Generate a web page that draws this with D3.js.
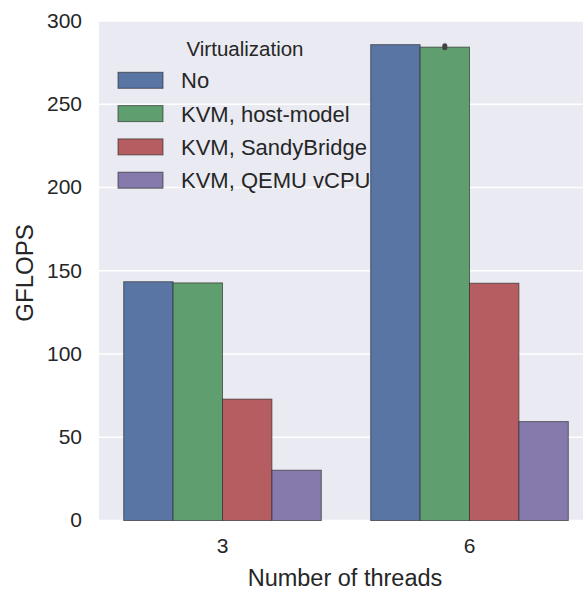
<!DOCTYPE html>
<html>
<head>
<meta charset="utf-8">
<script src="https://cdn.jsdelivr.net/npm/d3@7"></script>
<style>
  html, body { margin: 0; padding: 0; background: #fff; }
  svg { display: block; font-family: "Liberation Sans", Arial, sans-serif; }
</style>
</head>
<body>
<svg id="chart" width="583" height="591"></svg>
<script>
// ---- data ----
const categories = ["3", "6"];
const seriesNames = ["No", "KVM, host-model", "KVM, SandyBridge", "KVM, QEMU vCPU"];
const seriesColors = ["#5975a4", "#5f9e6e", "#b55d60", "#857aab"];
const valuesNo          = [143.4, 285.8];
const valuesHostModel   = [142.7, 284.3];
const valuesSandyBridge = [72.9, 142.5];
const valuesQemu        = [30.2, 59.4];
const ciLowHostModel    = [142.7, 284.0];
const ciHighHostModel   = [142.7, 285.2];
const yTicks = [0, 50, 100, 150, 200, 250, 300];
const xLabel = "Number of threads";
const yLabel = "GFLOPS";
const legendTitle = "Virtualization";

const seriesValues = [valuesNo, valuesHostModel, valuesSandyBridge, valuesQemu];

// ---- layout ----
const svg = d3.select("#chart");
const plot = { left: 99, right: 593, top: 21, bottom: 520.5 };
const textColor = "#262626";

const x = d3.scaleBand().domain(categories).range([plot.left, plot.right]).paddingInner(0).paddingOuter(0);
const xs = d3.scaleBand().domain(seriesNames).range([0, x.bandwidth() * 0.8]);
const y = d3.scaleLinear().domain([0, 300]).range([plot.bottom, plot.top]);

// background
svg.append("rect")
  .attr("x", plot.left).attr("y", plot.top)
  .attr("width", plot.right - plot.left).attr("height", plot.bottom - plot.top)
  .attr("fill", "#eaeaf2");

// gridlines
svg.append("g").selectAll("line").data(yTicks).join("line")
  .attr("x1", plot.left).attr("x2", plot.right)
  .attr("y1", d => y(d)).attr("y2", d => y(d))
  .attr("stroke", "#fff").attr("stroke-width", 1.6);

// y axis labels
const yAxis = d3.axisLeft(y).tickValues(yTicks).tickSize(0).tickPadding(17);
const gy = svg.append("g").attr("transform", `translate(${plot.left},0)`).call(yAxis);
gy.select(".domain").remove();
gy.selectAll("text").attr("font-size", 21).attr("fill", textColor)
  .attr("font-family", "Liberation Sans, Arial, sans-serif").attr("dy", "0.3em");

// x axis labels
const xAxis = d3.axisBottom(x).tickSize(0).tickPadding(18);
const gx = svg.append("g").attr("transform", `translate(0,${plot.bottom})`).call(xAxis);
gx.select(".domain").remove();
gx.selectAll("text").attr("font-size", 21).attr("fill", textColor)
  .attr("font-family", "Liberation Sans, Arial, sans-serif");

// bars
const barData = [];
seriesNames.forEach((s, si) => {
  categories.forEach((c, ci) => {
    barData.push({ series: s, si, cat: c, value: seriesValues[si][ci] });
  });
});
const bandStart = c => x(c) + x.bandwidth() * 0.1;
svg.append("g").selectAll("rect").data(barData).join("rect")
  .attr("x", d => bandStart(d.cat) + xs(d.series))
  .attr("width", xs.bandwidth())
  .attr("y", d => y(d.value))
  .attr("height", d => y(0) - y(d.value))
  .attr("fill", d => seriesColors[d.si])
  .attr("stroke", "#2a2a2a").attr("stroke-opacity", 0.65).attr("stroke-width", 1);

// error bars (only where non-zero)
const errData = categories.map((c, ci) => ({ cat: c, lo: ciLowHostModel[ci], hi: ciHighHostModel[ci] }))
  .filter(d => d.hi > d.lo);
svg.append("g").selectAll("line").data(errData).join("line")
  .attr("x1", d => bandStart(d.cat) + xs(seriesNames[1]) + xs.bandwidth() / 2)
  .attr("x2", d => bandStart(d.cat) + xs(seriesNames[1]) + xs.bandwidth() / 2)
  .attr("y1", d => y(d.lo)).attr("y2", d => y(d.hi))
  .attr("stroke", "#424242").attr("stroke-width", 5).attr("stroke-linecap", "round");

// axis titles
svg.append("text")
  .attr("x", (plot.left + 583) / 2 + 4).attr("y", 585.5)
  .attr("text-anchor", "middle").attr("font-size", 23.5).attr("fill", textColor)
  .text(xLabel);
svg.append("text")
  .attr("transform", `translate(33,${273}) rotate(-90)`)
  .attr("text-anchor", "middle").attr("font-size", 24).attr("fill", textColor)
  .text(yLabel);

// legend
const legend = svg.append("g");
legend.append("text")
  .attr("x", 245).attr("y", 55.5)
  .attr("text-anchor", "middle").attr("font-size", 20.5).attr("fill", textColor)
  .text(legendTitle);
const items = legend.selectAll("g.item").data(seriesNames).join("g")
  .attr("class", "item")
  .attr("transform", (d, i) => `translate(0,${80.3 + i * 33.3})`);
items.append("rect")
  .attr("x", 118).attr("y", -8).attr("width", 45).attr("height", 16)
  .attr("fill", (d, i) => seriesColors[i])
  .attr("stroke", "#2a2a2a").attr("stroke-opacity", 0.65).attr("stroke-width", 1);
items.append("text")
  .attr("x", 181).attr("y", 0).attr("dy", "0.36em")
  .attr("font-size", 22).attr("fill", textColor)
  .text(d => d);
</script>
</body>
</html>
